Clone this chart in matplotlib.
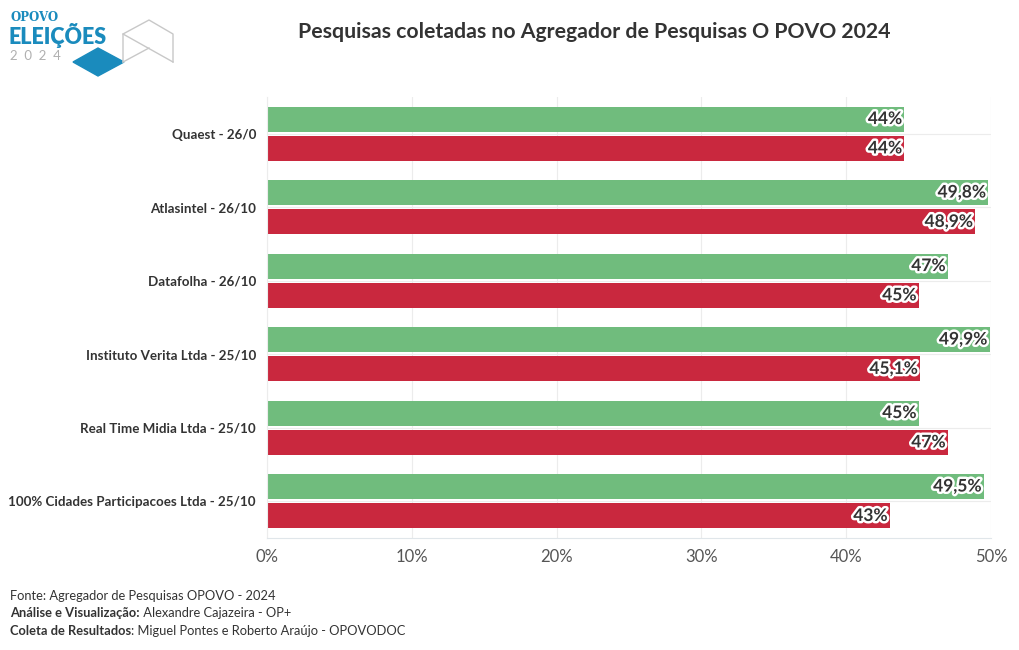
import numpy as np
import matplotlib.pyplot as plt
import matplotlib.patheffects as pe
from matplotlib.patches import Polygon
from matplotlib.lines import Line2D

plt.rcParams['font.family'] = ['Lato', 'DejaVu Sans']

institutos = ['Quaest - 26/0', 'Atlasintel - 26/10', 'Datafolha - 26/10',
              'Instituto Verita Ltda - 25/10', 'Real Time Midia Ltda - 25/10',
              '100% Cidades Participacoes Ltda - 25/10']
verde = [44, 49.8, 47, 49.9, 45, 49.5]
vermelho = [44, 48.9, 45, 45.1, 47, 43]
rotulos_verde = ['44%', '49,8%', '47%', '49,9%', '45%', '49,5%']
rotulos_vermelho = ['44%', '48,9%', '45%', '45,1%', '47%', '43%']
ticks = [0, 10, 20, 30, 40, 50]

W, H = 1020, 650
fig = plt.figure(figsize=(10.2, 6.5), dpi=100)
ax = fig.add_axes([0.2618, 0.1723, 0.7098, 0.6785])

y = np.arange(len(institutos))
h = 0.34
ax.barh(y - 0.2, verde, height=h, color='#70bc7d', zorder=2)
ax.barh(y + 0.2, vermelho, height=h, color='#c9283e', zorder=2)

stroke = [pe.withStroke(linewidth=3.5, foreground='white')]
for i in range(len(institutos)):
    ax.text(verde[i] - 0.15, y[i] - 0.2, rotulos_verde[i], ha='right', va='center',
            fontsize=12.5, fontweight='bold', color='#333333', path_effects=stroke, zorder=3)
    ax.text(vermelho[i] - 0.15, y[i] + 0.2, rotulos_vermelho[i], ha='right', va='center',
            fontsize=12.5, fontweight='bold', color='#333333', path_effects=stroke, zorder=3)

ax.set_xlim(0, 50)
ax.set_ylim(len(institutos) - 0.5, -0.5)
ax.set_yticks(y)
ax.set_yticklabels(institutos, fontsize=9.6, fontweight='bold', color='#333333')
ax.set_xticks(ticks)
ax.set_xticklabels([f'{t}%' for t in ticks], fontsize=12, color='#555555')
ax.tick_params(length=0, pad=8)
ax.tick_params(axis='y', pad=8)
ax.grid(True, color='#ececec', linewidth=0.8, zorder=0)
for s in ['top', 'right']:
    ax.spines[s].set_visible(False)
ax.spines['left'].set_color('#ececec')
ax.spines['bottom'].set_color('#e0e6ea')

fig.text(0.583, 0.951, 'Pesquisas coletadas no Agregador de Pesquisas O POVO 2024',
         ha='center', va='center', fontsize=15.3, fontweight='bold', color='#333333')

# logo (pixel coords -> figure coords)
def px(pts):
    return [[a / W, 1 - b / H] for a, b in pts]

fig.text(11 / W, 1 - 21 / H, 'OPOVO', fontsize=8.5, fontweight='bold', color='#1a8bbd',
         ha='left', va='baseline', family='DejaVu Serif')
fig.text(9 / W, 1 - 44 / H, 'ELEIÇÕES', fontsize=15.5, fontweight='heavy', color='#1a8bbd',
         ha='left', va='baseline')
fig.text(10 / W, 1 - 56 / H, '2  0  2  4', fontsize=9.5, color='#b0b0b0', ha='left', va='center')
fig.add_artist(Polygon(px([(73, 62), (98, 48), (124, 62), (98, 76)]),
                       closed=True, transform=fig.transFigure, color='#1a8bbd'))
cinza = dict(transform=fig.transFigure, color='#c8c8c8', linewidth=1)
for linha in [[(123, 62), (123, 34), (149, 20), (173, 34), (173, 62)],
              [(123, 34), (173, 62)], [(123, 62), (149, 48)]]:
    p = np.array(px(linha))
    fig.add_artist(Line2D(p[:, 0], p[:, 1], **cinza))

# rodapé
fig.text(0.010, 1 - 596 / H, 'Fonte: Agregador de Pesquisas OPOVO - 2024',
         fontsize=9.3, color='#333333', va='center')
fig.canvas.draw()
r = fig.canvas.get_renderer()
for yy, negrito, resto in [(613, 'Análise e Visualização:', ' Alexandre Cajazeira - OP+'),
                           (631, 'Coleta de Resultados', ': Miguel Pontes e Roberto Araújo - OPOVODOC')]:
    t = fig.text(0.010, 1 - yy / H, negrito, fontsize=9.3, fontweight='bold',
                 color='#333333', va='center')
    bb = t.get_window_extent(renderer=r)
    fig.text(bb.x1 / W, 1 - yy / H, resto, fontsize=9.3, color='#333333', va='center')

fig.savefig('out.png', dpi=100)
